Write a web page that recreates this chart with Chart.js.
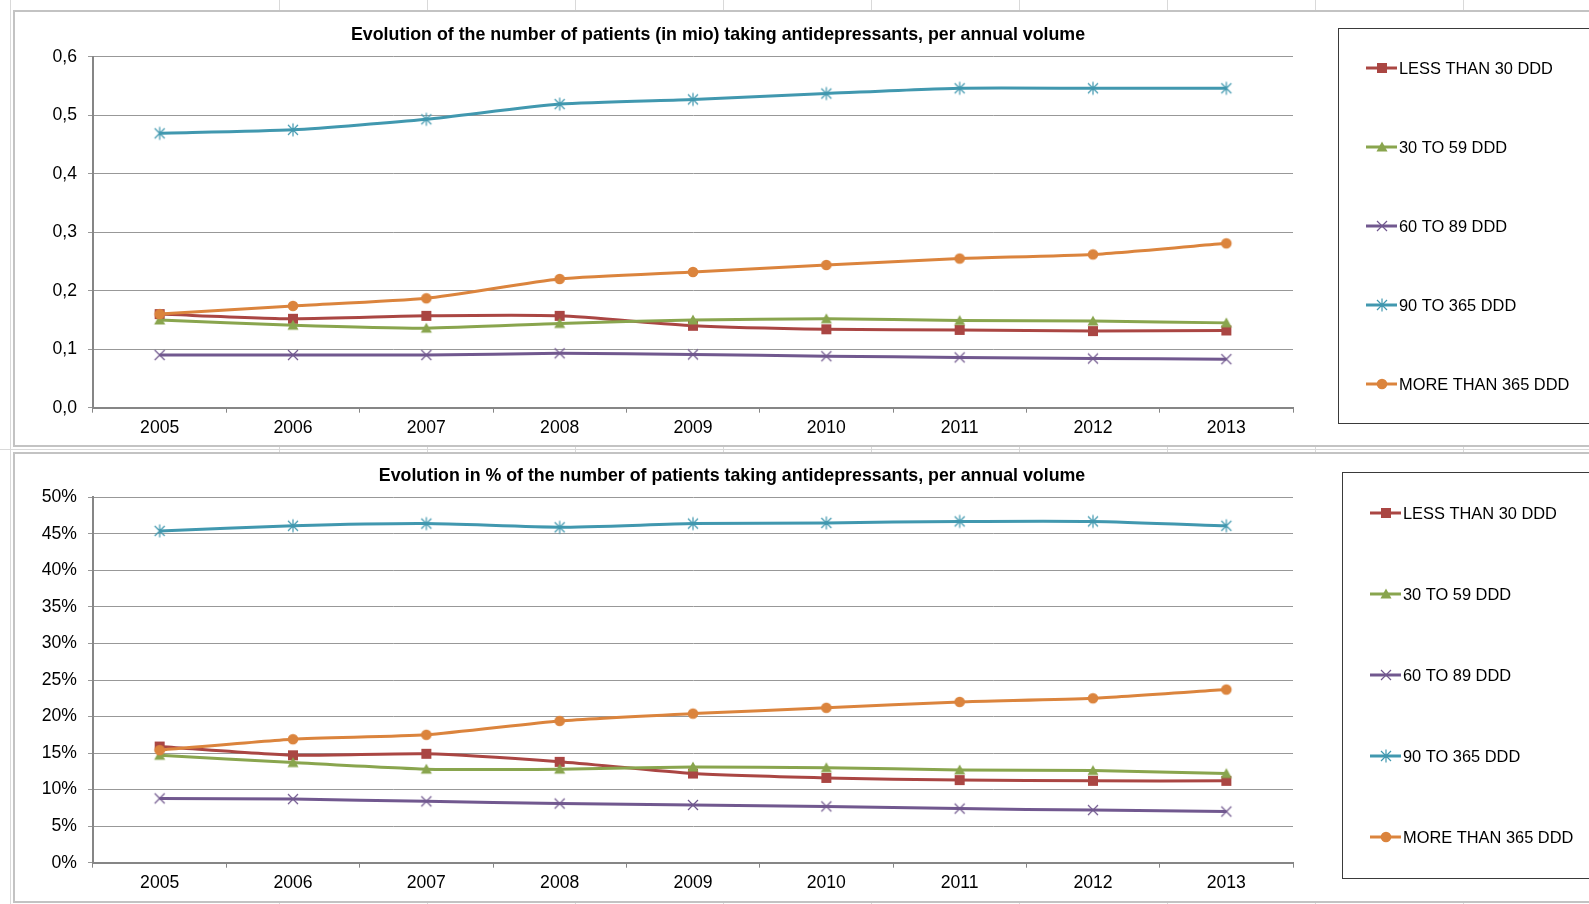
<!DOCTYPE html>
<html>
<head>
<meta charset="utf-8">
<title>Antidepressants – patients per annual volume</title>
<script src="https://cdn.jsdelivr.net/npm/chart.js@4.4.1/dist/chart.umd.min.js"></script>
<style>
  html, body { margin: 0; padding: 0; background: #fff; overflow: hidden; }
  body { width: 1589px; height: 904px; position: relative; }
  .cell-v { position: absolute; top: 0; width: 1px; height: 904px; background: #d9d9d9; }
  .cell-h { position: absolute; left: 0; width: 1589px; height: 1px; background: #d9d9d9; }
  .panel { position: absolute; background: #fff; border: 2px solid #c3c3c3; box-sizing: border-box; }
  #panel1 { left: 13px; top: 10px; width: 1600px; height: 437px; }
  #panel2 { left: 13px; top: 452px; width: 1600px; height: 451px; }
  canvas { position: absolute; left: 0; }
  #countChart { top: 0; }
  #shareChart { top: 450px; }
</style>
</head>
<body>
<div id="sheet"></div>
<div class="panel" id="panel1"></div>
<div class="panel" id="panel2"></div>
<canvas id="countChart" width="1589" height="450"></canvas>
<canvas id="shareChart" width="1589" height="454"></canvas>

<script>
// ---- data ----
const years = ['2005', '2006', '2007', '2008', '2009', '2010', '2011', '2012', '2013'];

const seriesNames = ['LESS THAN 30 DDD', '30 TO 59 DDD', '60 TO 89 DDD', '90 TO 365 DDD', 'MORE THAN 365 DDD'];

// patients, in millions
const patientsLess30   = [0.160, 0.152, 0.157, 0.157, 0.140, 0.134, 0.133, 0.131, 0.132];
const patients30to59   = [0.150, 0.141, 0.136, 0.144, 0.150, 0.152, 0.149, 0.148, 0.145];
const patients60to89   = [0.090, 0.090, 0.090, 0.093, 0.091, 0.088, 0.086, 0.084, 0.083];
const patients90to365  = [0.469, 0.475, 0.493, 0.519, 0.527, 0.537, 0.546, 0.546, 0.546];
const patientsOver365  = [0.160, 0.174, 0.187, 0.220, 0.232, 0.244, 0.255, 0.262, 0.281];

// share of patients, in %
const shareLess30  = [15.9, 14.7, 14.9, 13.8, 12.2, 11.6, 11.3, 11.2, 11.2];
const share30to59  = [14.7, 13.7, 12.8, 12.8, 13.1, 13.0, 12.7, 12.6, 12.2];
const share60to89  = [8.8, 8.7, 8.4, 8.1, 7.9, 7.7, 7.4, 7.2, 7.0];
const share90to365 = [45.4, 46.1, 46.4, 45.9, 46.4, 46.5, 46.7, 46.7, 46.1];
const shareOver365 = [15.4, 16.9, 17.5, 19.4, 20.4, 21.2, 22.0, 22.5, 23.7];

const countTickLabels = ['0,0', '0,1', '0,2', '0,3', '0,4', '0,5', '0,6'];
const shareTickLabels = ['0%', '5%', '10%', '15%', '20%', '25%', '30%', '35%', '40%', '45%', '50%'];

const countTitle = 'Evolution of the number of patients (in mio) taking antidepressants, per annual volume';
const shareTitle = 'Evolution in % of the number of patients taking antidepressants, per annual volume';

// ---- styling ----
const seriesColors = ['#AA4643', '#89A54E', '#71588F', '#4198AF', '#DB843D'];
const markerKinds  = ['square', 'triangle', 'x', 'star', 'circle'];
const FONT = '"Liberation Sans", Arial, Helvetica, sans-serif';
const GRID = '#989898';
const AXIS = '#868686';

// spreadsheet cell lines behind the chart panels
(function drawSheet() {
  const sheet = document.getElementById('sheet');
  [10, 279, 427, 575, 723, 871, 1019, 1167, 1315, 1463].forEach(x => {
    const d = document.createElement('div');
    d.className = 'cell-v'; d.style.left = x + 'px'; sheet.appendChild(d);
  });
  [449].forEach(y => {
    const d = document.createElement('div');
    d.className = 'cell-h'; d.style.top = y + 'px'; sheet.appendChild(d);
  });
})();

// small canvases used as point markers (and reused in the legend)
function makeMarker(kind, color) {
  const c = document.createElement('canvas');
  c.width = 16; c.height = 16;
  const g = c.getContext('2d');
  g.fillStyle = color; g.strokeStyle = color; g.lineWidth = 1.2;
  const m = 8;
  if (kind === 'square') {
    g.fillRect(m - 5, m - 5, 10, 10);
  } else if (kind === 'triangle') {
    g.beginPath(); g.moveTo(m, m - 5.5); g.lineTo(m + 5.5, m + 4.5); g.lineTo(m - 5.5, m + 4.5); g.closePath(); g.fill();
  } else if (kind === 'circle') {
    g.beginPath(); g.arc(m, m, 5.3, 0, Math.PI * 2); g.fill();
  } else if (kind === 'x') {
    g.beginPath();
    g.moveTo(m - 5, m - 5); g.lineTo(m + 5, m + 5);
    g.moveTo(m + 5, m - 5); g.lineTo(m - 5, m + 5);
    g.stroke();
  } else if (kind === 'star') {
    g.beginPath();
    g.moveTo(m - 5, m - 5); g.lineTo(m + 5, m + 5);
    g.moveTo(m + 5, m - 5); g.lineTo(m - 5, m + 5);
    g.moveTo(m, m - 6.5); g.lineTo(m, m + 6.5);
    g.stroke();
  }
  return c;
}
const markers = markerKinds.map((k, i) => makeMarker(k, seriesColors[i]));

function buildDatasets(seriesValues) {
  return seriesNames.map((name, i) => ({
    label: name,
    data: seriesValues[i],
    borderColor: seriesColors[i],
    backgroundColor: seriesColors[i],
    borderWidth: 3,
    pointStyle: markers[i],
    pointRadius: 5,
    pointHoverRadius: 5,
    tension: 0.2,
    fill: false,
    order: seriesNames.length - 1 - i
  }));
}

// bold caption drawn at a fixed centre
const captionPlugin = {
  id: 'caption',
  afterDraw(chart, args, opts) {
    const ctx = chart.ctx;
    ctx.save();
    ctx.font = 'bold 17.8px ' + FONT;
    ctx.fillStyle = '#000';
    ctx.textAlign = 'center';
    ctx.textBaseline = 'middle';
    ctx.fillText(opts.text, opts.x, opts.y);
    ctx.restore();
  }
};

// framed legend: line + marker + label, entries spread evenly over the frame
const boxLegendPlugin = {
  id: 'boxLegend',
  afterDraw(chart, args, opts) {
    const ctx = chart.ctx;
    const b = opts.box;
    ctx.save();
    ctx.strokeStyle = '#3a3a3a';
    ctx.lineWidth = 1;
    ctx.strokeRect(b.left + 0.5, b.top + 0.5, b.right - b.left, b.bottom - b.top);
    const n = chart.data.datasets.length;
    const step = (b.bottom - b.top) / n;
    ctx.font = '16.4px ' + FONT;
    ctx.textAlign = 'left';
    ctx.textBaseline = 'middle';
    chart.data.datasets.forEach((ds, i) => {
      const y = Math.round(b.top + (i + 0.5) * step);
      const x0 = b.left + opts.lineInset;
      const x1 = x0 + opts.lineLength;
      ctx.strokeStyle = ds.borderColor;
      ctx.lineWidth = 3;
      ctx.beginPath(); ctx.moveTo(x0, y); ctx.lineTo(x1, y); ctx.stroke();
      const mk = ds.pointStyle;
      ctx.drawImage(mk, Math.round((x0 + x1) / 2 - mk.width / 2), y - mk.height / 2);
      ctx.fillStyle = '#000';
      ctx.fillText(ds.label, x1 + 2, y + 1);
    });
    ctx.restore();
  }
};

function makeChart(canvasId, seriesValues, yCfg, tickLabels, caption, legendBox, pad) {
  return new Chart(document.getElementById(canvasId), {
    type: 'line',
    data: { labels: years, datasets: buildDatasets(seriesValues) },
    plugins: [captionPlugin, boxLegendPlugin],
    options: {
      responsive: false,
      animation: false,
      events: [],
      layout: { padding: pad },
      plugins: {
        legend: { display: false },
        tooltip: { enabled: false },
        title: { display: false },
        caption: caption,
        boxLegend: { box: legendBox, lineInset: 28, lineLength: 31 }
      },
      scales: {
        x: {
          type: 'category',
          offset: true,
          grid: { offset: true, drawOnChartArea: false, drawTicks: true, tickLength: 5, color: AXIS, lineWidth: 1 },
          border: { color: AXIS, width: 2 },
          ticks: { font: { family: FONT, size: 17.6 }, color: '#000', padding: 5, maxRotation: 0, autoSkip: false },
          afterFit(s) { s.height = 30; }
        },
        y: {
          min: yCfg.min,
          max: yCfg.max,
          grid: { color: GRID, lineWidth: 1, tickLength: 5, drawTicks: true },
          border: { color: AXIS, width: 2 },
          ticks: {
            stepSize: yCfg.step,
            font: { family: FONT, size: 17.6 },
            color: '#000',
            padding: 11,
            callback: (v, i) => tickLabels[i]
          },
          afterFit(s) { s.width = 93; }
        }
      }
    }
  });
}

makeChart('countChart',
  [patientsLess30, patients30to59, patients60to89, patients90to365, patientsOver365],
  { min: 0, max: 0.6, step: 0.1 }, countTickLabels,
  { text: countTitle, x: 718, y: 35 },
  { left: 1338, top: 28, right: 1600, bottom: 423 },
  { left: 0, right: 296, top: 56.7, bottom: 12.3 });

makeChart('shareChart',
  [shareLess30, share30to59, share60to89, share90to365, shareOver365],
  { min: 0, max: 50, step: 5 }, shareTickLabels,
  { text: shareTitle, x: 732, y: 26 },
  { left: 1342, top: 22, right: 1600, bottom: 428 },
  { left: 0, right: 296, top: 47.3, bottom: 11.3 });
</script>
</body>
</html>
